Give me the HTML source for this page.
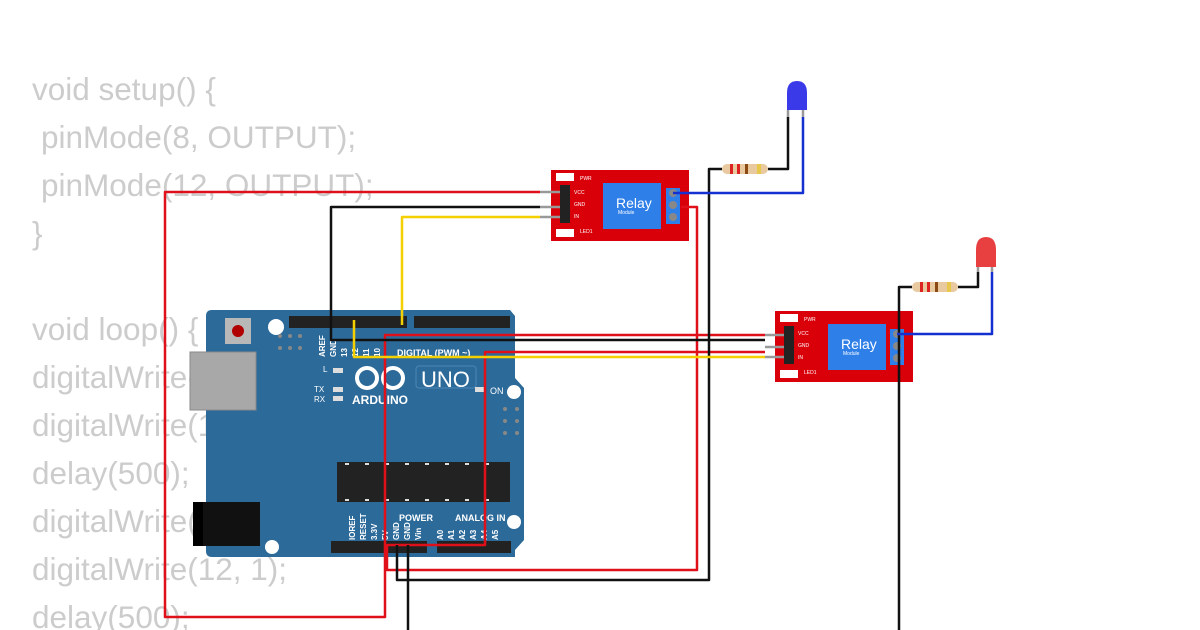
<!DOCTYPE html>
<html><head><meta charset="utf-8"><style>
body{margin:0;width:1200px;height:630px;overflow:hidden;background:#fff}
svg{display:block}
</style></head><body>
<svg width="1200" height="630" viewBox="0 0 1200 630" xmlns="http://www.w3.org/2000/svg">
<g font-family="Liberation Sans, sans-serif" font-size="31.5" fill="#cccccc">
<text x="32" y="100">void setup() {</text>
<text x="41" y="148">pinMode(8, OUTPUT);</text>
<text x="41" y="196">pinMode(12, OUTPUT);</text>
<text x="32" y="244">}</text>
<text x="32" y="340">void loop() {</text>
<text x="32" y="388">digitalWrite(8, 1);</text>
<text x="32" y="436">digitalWrite(12, 0);</text>
<text x="32" y="484">delay(500);</text>
<text x="32" y="532">digitalWrite(8, 0);</text>
<text x="32" y="580">digitalWrite(12, 1);</text>
<text x="32" y="628">delay(500);</text>
</g>

<!-- Arduino board -->
<path d="M212 310 H510 L515 316 V378 L524 388 V540 L515 550 V557 H212 Q206 557 206 551 V316 Q206 310 212 310 Z" fill="#2c6a9a"/>
<rect x="190" y="352" width="66" height="58" fill="#a8a8a8" stroke="#8a8a8a"/>
<rect x="196" y="502" width="64" height="44" fill="#111"/>
<rect x="193" y="502" width="10" height="44" fill="#000"/>
<rect x="225" y="318" width="26" height="26" fill="#b8b8b8"/>
<circle cx="238" cy="331" r="6" fill="#b00000"/>
<circle cx="276" cy="327" r="8" fill="#fff"/>
<circle cx="272" cy="547" r="7" fill="#fff"/>
<circle cx="514" cy="392" r="7" fill="#fff"/>
<circle cx="514" cy="522" r="7" fill="#fff"/>
<g fill="#888"><circle cx="280" cy="336" r="2"/><circle cx="290" cy="336" r="2"/><circle cx="300" cy="336" r="2"/><circle cx="280" cy="348" r="2"/><circle cx="290" cy="348" r="2"/><circle cx="300" cy="348" r="2"/>
<circle cx="505" cy="409" r="2"/><circle cx="517" cy="409" r="2"/><circle cx="505" cy="421" r="2"/><circle cx="517" cy="421" r="2"/><circle cx="505" cy="433" r="2"/><circle cx="517" cy="433" r="2"/></g>
<rect x="289" y="316" width="118" height="12" fill="#222"/>
<rect x="414" y="316" width="96" height="12" fill="#222"/>
<rect x="331" y="541" width="96" height="12" fill="#222"/>
<rect x="437" y="541" width="74" height="12" fill="#222"/>
<rect x="337" y="462" width="173" height="40" fill="#222"/>
<g fill="#ddd"><rect x="345" y="463" width="4" height="2"/><rect x="365" y="463" width="4" height="2"/><rect x="385" y="463" width="4" height="2"/><rect x="405" y="463" width="4" height="2"/><rect x="425" y="463" width="4" height="2"/><rect x="445" y="463" width="4" height="2"/><rect x="465" y="463" width="4" height="2"/><rect x="485" y="463" width="4" height="2"/>
<rect x="345" y="499" width="4" height="2"/><rect x="365" y="499" width="4" height="2"/><rect x="385" y="499" width="4" height="2"/><rect x="405" y="499" width="4" height="2"/><rect x="425" y="499" width="4" height="2"/><rect x="445" y="499" width="4" height="2"/><rect x="465" y="499" width="4" height="2"/><rect x="485" y="499" width="4" height="2"/></g>
<g font-family="Liberation Sans, sans-serif" fill="#fff" font-weight="bold">
<text x="397" y="356" font-size="9">DIGITAL (PWM ~)</text>
<text x="352" y="404" font-size="12">ARDUINO</text>
<text x="421" y="387" font-size="22" font-weight="normal">UNO</text>
<text x="399" y="521" font-size="9">POWER</text>
<text x="455" y="521" font-size="9">ANALOG IN</text>
<text x="490" y="394" font-size="9" font-weight="normal">ON</text>
<text x="323" y="372" font-size="8" font-weight="normal">L</text>
<text x="314" y="392" font-size="8" font-weight="normal">TX</text>
<text x="314" y="402" font-size="8" font-weight="normal">RX</text>
</g>
<g font-family="Liberation Sans, sans-serif" fill="#fff" font-size="8" font-weight="bold">
<text transform="translate(355,540) rotate(-90)">IOREF</text>
<text transform="translate(366,540) rotate(-90)">RESET</text>
<text transform="translate(377,540) rotate(-90)">3.3V</text>
<text transform="translate(388,540) rotate(-90)">5V</text>
<text transform="translate(399,540) rotate(-90)">GND</text>
<text transform="translate(410,540) rotate(-90)">GND</text>
<text transform="translate(421,540) rotate(-90)">Vin</text>
<text transform="translate(443,540) rotate(-90)">A0</text>
<text transform="translate(454,540) rotate(-90)">A1</text>
<text transform="translate(465,540) rotate(-90)">A2</text>
<text transform="translate(476,540) rotate(-90)">A3</text>
<text transform="translate(487,540) rotate(-90)">A4</text>
<text transform="translate(498,540) rotate(-90)">A5</text>
<text transform="translate(325,357) rotate(-90)">AREF</text>
<text transform="translate(336,357) rotate(-90)">GND</text>
<text transform="translate(347,357) rotate(-90)">13</text>
<text transform="translate(358,357) rotate(-90)">12</text>
<text transform="translate(369,357) rotate(-90)">11</text>
<text transform="translate(380,357) rotate(-90)">10</text>
</g>
<rect x="416" y="366" width="60" height="22" rx="3" fill="none" stroke="#4d86b5"/>
<circle cx="367" cy="378" r="10" fill="none" stroke="#fff" stroke-width="4"/>
<circle cx="393" cy="378" r="10" fill="none" stroke="#fff" stroke-width="4"/>
<rect x="333" y="368" width="10" height="5" fill="#ddd"/><rect x="333" y="387" width="10" height="5" fill="#ddd"/><rect x="333" y="396" width="10" height="5" fill="#ddd"/><rect x="475" y="387" width="10" height="5" fill="#ddd"/>

<!-- Relay 1 -->
<rect x="551" y="170" width="138" height="71" fill="#d9000a"/>
<rect x="560" y="185" width="10" height="38" fill="#222"/>
<rect x="603" y="183" width="58" height="46" fill="#2f7fe8"/>
<text x="616" y="208" font-family="Liberation Sans, sans-serif" font-size="14" fill="#fff">Relay</text>
<text x="618" y="214" font-family="Liberation Sans, sans-serif" font-size="5" fill="#fff">Module</text>
<rect x="666" y="188" width="14" height="36" fill="#2f7fe8"/>
<g fill="#888"><circle cx="673" cy="193" r="4"/><circle cx="673" cy="205" r="4"/><circle cx="673" cy="217" r="4"/></g>
<rect x="556" y="173" width="18" height="8" fill="#fff"/><rect x="556" y="229" width="18" height="8" fill="#fff"/>
<g font-family="Liberation Sans, sans-serif" font-size="5" fill="#fff"><text x="574" y="194">VCC</text><text x="574" y="206">GND</text><text x="574" y="218">IN</text><text x="580" y="180">PWR</text><text x="580" y="233">LED1</text></g>

<!-- Relay 2 -->
<rect x="775" y="311" width="138" height="71" fill="#d9000a"/>
<rect x="784" y="326" width="10" height="38" fill="#222"/>
<rect x="828" y="324" width="58" height="46" fill="#2f7fe8"/>
<text x="841" y="349" font-family="Liberation Sans, sans-serif" font-size="14" fill="#fff">Relay</text>
<text x="843" y="355" font-family="Liberation Sans, sans-serif" font-size="5" fill="#fff">Module</text>
<rect x="890" y="329" width="14" height="36" fill="#2f7fe8"/>
<g fill="#888"><circle cx="897" cy="334" r="4"/><circle cx="897" cy="346" r="4"/><circle cx="897" cy="358" r="4"/></g>
<rect x="780" y="314" width="18" height="8" fill="#fff"/><rect x="780" y="370" width="18" height="8" fill="#fff"/>
<g font-family="Liberation Sans, sans-serif" font-size="5" fill="#fff"><text x="798" y="335">VCC</text><text x="798" y="347">GND</text><text x="798" y="359">IN</text><text x="804" y="321">PWR</text><text x="804" y="374">LED1</text></g>

<!-- LEDs and resistors -->
<path d="M787 110 V93 Q787 81 797 81 Q807 81 807 93 V110 Z" fill="#3a3ae8"/>
<path d="M976 267 V250 Q976 237 986 237 Q996 237 996 250 V267 Z" fill="#e84040"/>
<rect x="722" y="164" width="46" height="10" rx="5" fill="#e8c9a0"/>
<g fill="#d22"><rect x="730" y="164" width="3" height="10"/><rect x="737" y="164" width="3" height="10"/></g><rect x="745" y="164" width="3" height="10" fill="#8b4a13"/><rect x="757" y="164" width="4" height="10" fill="#e8c84a"/>
<rect x="912" y="282" width="46" height="10" rx="5" fill="#e8c9a0"/>
<g fill="#d22"><rect x="920" y="282" width="3" height="10"/><rect x="927" y="282" width="3" height="10"/></g><rect x="935" y="282" width="3" height="10" fill="#8b4a13"/><rect x="947" y="282" width="4" height="10" fill="#e8c84a"/>

<g fill="none" stroke-width="2.5" stroke-linejoin="round">
<path d="M540 192H560M540 207H560M540 217H560M765 335H784M765 347H784M765 357H784M788 110V117M803 110V117M978 267V272M992 267V272" stroke="#999"/>
<path d="M540 192H165V617H385V335H765" stroke="#e0101a"/>
<path d="M681 207H697V570H387V545H485V352H765" stroke="#e0101a"/>
<path d="M540 207H331V340H765" stroke="#111"/>
<path d="M397 545V580H709V169H722" stroke="#111"/>
<path d="M408 545V630" stroke="#111"/>
<path d="M899 630V287H912" stroke="#111"/>
<path d="M768 169H788V117" stroke="#111"/>
<path d="M958 287H978V272" stroke="#111"/>
<path d="M540 217H402V325" stroke="#f5d000"/>
<path d="M354 320V357H765" stroke="#f5d000"/>
<path d="M673 193H803V117" stroke="#1530d0"/>
<path d="M897 334H992V272" stroke="#1530d0"/>
</g>
</svg>
</body></html>
